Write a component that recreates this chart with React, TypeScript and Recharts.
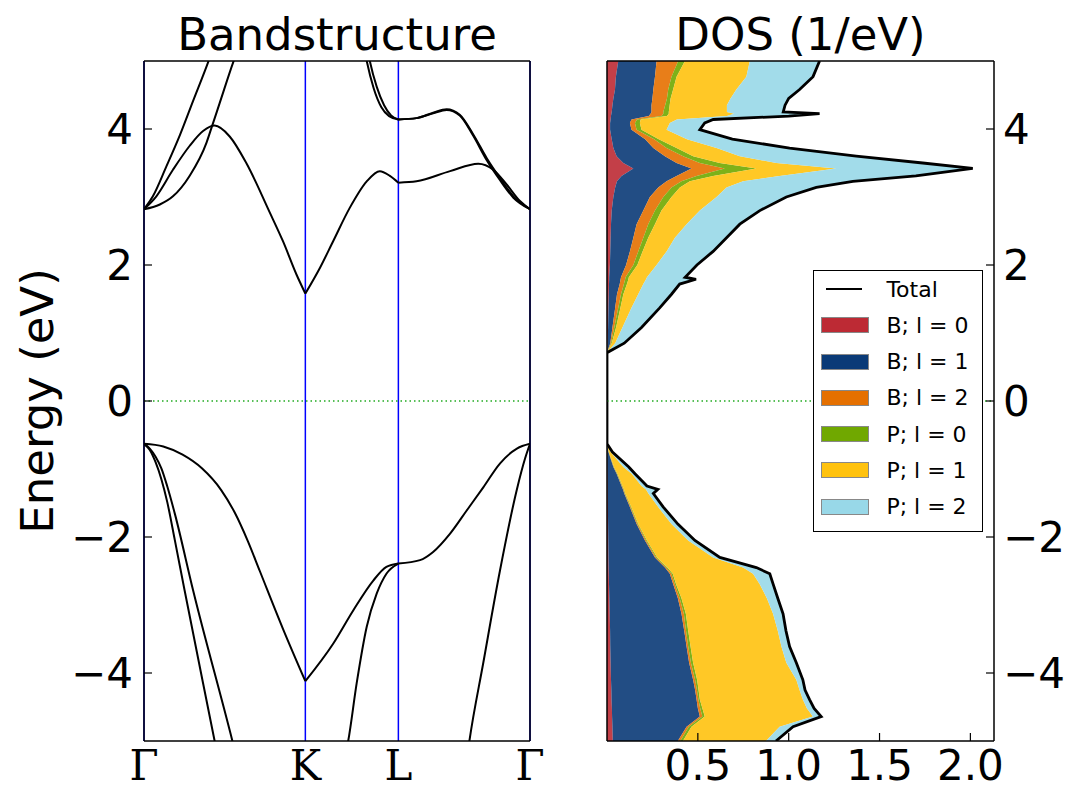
import React from "react";
import {
  ComposedChart, Line, Area, XAxis, YAxis, ReferenceLine, Legend, Label,
} from "recharts";

// k-path: fractional distance along Γ-K-L-Γ
const kTicks = [0, 0.418, 0.659, 1];
const kLabels = ["Γ", "K", "L", "Γ"];
const eTicks = [-4, -2, 0, 2, 4];
const dosTicks = [0.5, 1, 1.5, 2];

// band segments, [k, E(eV)]
const condGK_A = [[0, 2.82], [0.023, 3.01], [0.058, 3.45], [0.093, 3.91], [0.127, 4.41], [0.166, 4.98], [0.18, 5.2]];
const condGK_B = [[0, 2.82], [0.041, 2.89], [0.075, 3.01], [0.118, 3.31], [0.162, 3.8], [0.175, 4.02], [0.196, 4.38], [0.231, 4.98], [0.245, 5.2]];
const condGK_C = [[0, 2.82], [0.032, 3.01], [0.075, 3.4], [0.118, 3.75], [0.153, 3.97], [0.183, 4.05], [0.222, 3.89], [0.265, 3.5], [0.326, 2.77], [0.36, 2.35], [0.395, 1.86], [0.418, 1.58]];
const valGK_1 = [[0, -0.63], [0.05, -0.67], [0.1, -0.79], [0.15, -0.99], [0.2, -1.31], [0.235, -1.64], [0.269, -2.06], [0.3, -2.5], [0.36, -3.35], [0.418, -4.12]];
const valGK_2 = [[0, -0.63], [0.015, -0.72], [0.03, -0.9], [0.045, -1.15], [0.06, -1.48], [0.08, -2.05], [0.105, -2.78], [0.183, -5.0], [0.19, -5.2]];
const valGK_3 = [[0, -0.63], [0.015, -0.7], [0.03, -0.82], [0.045, -0.99], [0.06, -1.25], [0.08, -1.66], [0.127, -2.78], [0.229, -5.0], [0.24, -5.25]];

const condKL_C = [[0.418, 1.58], [0.456, 1.96], [0.49, 2.35], [0.533, 2.84], [0.577, 3.23], [0.611, 3.38], [0.637, 3.31], [0.659, 3.21]];
const condKL_U1 = [[0.57, 5.2], [0.577, 5.0], [0.595, 4.6], [0.615, 4.32], [0.635, 4.19], [0.659, 4.14]];
const condKL_U2 = [[0.578, 5.2], [0.585, 5.0], [0.603, 4.62], [0.622, 4.35], [0.64, 4.2], [0.659, 4.14]];
const valKL_1 = [[0.418, -4.12], [0.49, -3.57], [0.542, -3.08], [0.594, -2.64], [0.628, -2.44], [0.659, -2.39]];
const valKL_2 = [[0.522, -5.2], [0.529, -5.0], [0.551, -4.15], [0.577, -3.32], [0.603, -2.83], [0.628, -2.54], [0.659, -2.39]];

const condLG_C = [[0.659, 3.21], [0.706, 3.23], [0.793, 3.38], [0.866, 3.49], [0.905, 3.4], [0.94, 3.18], [0.974, 2.94], [1, 2.82]];
const condLG_U1 = [[0.659, 4.14], [0.706, 4.16], [0.749, 4.24], [0.784, 4.29], [0.818, 4.21], [0.853, 3.92], [0.888, 3.57], [0.922, 3.28], [0.957, 3.01], [1, 2.82]];
const condLG_U2 = [[0.659, 4.14], [0.706, 4.16], [0.749, 4.23], [0.784, 4.28], [0.818, 4.2], [0.853, 3.9], [0.888, 3.54], [0.922, 3.25], [0.957, 2.99], [1, 2.82]];
const valLG_1 = [[0.659, -2.39], [0.715, -2.34], [0.749, -2.22], [0.793, -1.95], [0.836, -1.61], [0.879, -1.27], [0.922, -0.92], [0.966, -0.7], [1, -0.63]];
const valLG_2 = [[0.838, -5.2], [0.843, -5.0], [0.879, -3.85], [0.922, -2.5], [0.966, -1.3], [0.987, -0.85], [1, -0.63]];

const bandSegments = [
  condGK_A, condGK_B, condGK_C, valGK_1, valGK_2, valGK_3,
  condKL_C, condKL_U1, condKL_U2, valKL_1, valKL_2,
  condLG_C, condLG_U1, condLG_U2, valLG_1, valLG_2,
].map(seg => seg.map(([k, e]) => ({ k, e })));

// projected DOS (1/eV) per energy
const dosE = [-5.0, -4.79, -4.64, -4.52, -4.39, -4.25, -4.1, -3.85, -3.61, -3.38, -3.13, -2.9, -2.69, -2.54, -2.45, -2.3, -2.05, -1.81, -1.56, -1.36, -1.3, -1.25, -1.07, -0.97, -0.75, -0.63,
  0.71, 0.85, 1.08, 1.37, 1.57, 1.72, 1.79, 1.82, 2.0, 2.2, 2.4, 2.6, 2.8, 3.0, 3.14, 3.23, 3.31, 3.42, 3.5, 3.6, 3.72, 3.85, 3.99, 4.09, 4.14, 4.19, 4.225, 4.25, 4.35, 4.45, 4.58, 4.77, 5.0];
const bS = [0.032, 0.03, 0.028, 0.027, 0.025, 0.024, 0.022, 0.02, 0.018, 0.017, 0.015, 0.013, 0.011, 0.01, 0.009, 0.008, 0.007, 0.006, 0.005, 0.004, 0.004, 0.004, 0.003, 0.002, 0.001, 0,
  0, 0.003, 0.006, 0.008, 0.01, 0.011, 0.012, 0.012, 0.016, 0.018, 0.02, 0.022, 0.026, 0.035, 0.045, 0.055, 0.08, 0.145, 0.09, 0.053, 0.035, 0.026, 0.017, 0.017, 0.02, 0.022, 0.024, 0.026, 0.03, 0.035, 0.044, 0.049, 0.062];
const bP = [0.358, 0.408, 0.483, 0.473, 0.468, 0.461, 0.452, 0.432, 0.42, 0.408, 0.395, 0.377, 0.353, 0.336, 0.31, 0.256, 0.202, 0.157, 0.121, 0.091, 0.084, 0.076, 0.05, 0.033, 0.007, 0,
  0, 0.015, 0.024, 0.037, 0.045, 0.059, 0.063, 0.065, 0.089, 0.108, 0.125, 0.141, 0.174, 0.201, 0.237, 0.273, 0.303, 0.32, 0.293, 0.266, 0.22, 0.184, 0.118, 0.109, 0.115, 0.208, 0.216, 0.219, 0.215, 0.215, 0.211, 0.215, 0.211];
const bD = [0.013, 0.012, 0.014, 0.013, 0.01, 0.01, 0.011, 0.01, 0.009, 0.01, 0.013, 0.01, 0.009, 0.009, 0.007, 0.006, 0.006, 0.005, 0.004, 0.003, 0.003, 0.003, 0.002, 0.002, 0.001, 0,
  0, 0.004, 0.01, 0.017, 0.022, 0.023, 0.025, 0.025, 0.04, 0.046, 0.055, 0.064, 0.064, 0.074, 0.073, 0.082, 0.11, 0.183, 0.128, 0.1, 0.073, 0.05, 0.028, 0.028, 0.03, 0.07, 0.07, 0.065, 0.075, 0.08, 0.082, 0.091, 0.119];
const pS = [0.015, 0.015, 0.013, 0.012, 0.008, 0.009, 0.011, 0.012, 0.013, 0.012, 0.011, 0.01, 0.007, 0.007, 0.007, 0.006, 0.005, 0.004, 0.004, 0.003, 0.003, 0.003, 0.003, 0.002, 0.001, 0,
  0, 0.004, 0.01, 0.012, 0.013, 0.017, 0.018, 0.018, 0.022, 0.024, 0.027, 0.037, 0.036, 0.045, 0.046, 0.046, 0.091, 0.174, 0.109, 0.055, 0.055, 0.025, 0.027, 0.027, 0.02, 0.03, 0.03, 0.03, 0.025, 0.02, 0.027, 0.028, 0.037];
const pP = [0.457, 0.485, 0.595, 0.575, 0.567, 0.556, 0.546, 0.513, 0.5, 0.493, 0.48, 0.47, 0.46, 0.442, 0.416, 0.308, 0.227, 0.183, 0.148, 0.127, 0.121, 0.104, 0.078, 0.051, 0.01, 0,
  0, 0.019, 0.035, 0.061, 0.082, 0.09, 0.097, 0.1, 0.106, 0.132, 0.147, 0.174, 0.211, 0.248, 0.257, 0.293, 0.366, 0.44, 0.312, 0.257, 0.22, 0.155, 0.138, 0.165, 0.2, 0.33, 0.36, 0.32, 0.315, 0.33, 0.348, 0.384, 0.357];
const pD = [0.055, 0.074, 0.046, 0.04, 0.037, 0.03, 0.036, 0.055, 0.045, 0.045, 0.055, 0.06, 0.074, 0.092, 0.073, 0.037, 0.037, 0.035, 0.028, 0.027, 0.065, 0.03, 0.018, 0.03, 0.01, 0,
  0, 0.05, 0.105, 0.155, 0.183, 0.2, 0.275, 0.21, 0.222, 0.256, 0.284, 0.293, 0.33, 0.384, 0.494, 0.604, 0.75, 0.751, 0.806, 0.641, 0.402, 0.25, 0.183, 0.192, 0.2, 0.34, 0.47, 0.31, 0.32, 0.32, 0.348, 0.367, 0.384];

const dosRows = dosE.map((e, i) => ({
  e, bS: bS[i], bP: bP[i], bD: bD[i], pS: pS[i], pP: pP[i], pD: pD[i],
  total: bS[i] + bP[i] + bD[i] + pS[i] + pP[i] + pD[i],
}));

const series = [
  { key: "bS", name: "B; l = 0", color: "#bd2a34" },
  { key: "bP", name: "B; l = 1", color: "#0a3a77" },
  { key: "bD", name: "B; l = 2", color: "#e57000" },
  { key: "pS", name: "P; l = 0", color: "#70a800" },
  { key: "pP", name: "P; l = 1", color: "#ffc20e" },
  { key: "pD", name: "P; l = 2", color: "#98d8e8" },
];

const FONT = "DejaVu Sans";
const spine = { stroke: "#000", strokeWidth: 1.5 };
const tickLn = { stroke: "#000", strokeWidth: 1.2 };
const tickTxt = { fontSize: 42, fill: "#000", fontFamily: FONT };
const fmtE = (v: number) => (v < 0 ? `\u2212${-v}` : `${v}`);

function EnergyLabel(props: any) {
  const vb = props.viewBox;
  const cx = vb.x + 53;
  const cy = vb.y + vb.height / 2;
  return (
    <text x={cx} y={cy} transform={`rotate(-90 ${cx} ${cy})`} textAnchor="middle"
      fontSize={45} fontFamily={FONT} fill="#000">Energy (eV)</text>
  );
}

function DosLegend() {
  const rowH = 36.3;
  return (
    <div style={{ width: 170, height: 262, border: "1.3px solid #000", background: "#fff", boxSizing: "border-box",
      position: "relative", fontFamily: FONT, fontSize: 22, color: "#000" }}>
      {[{ name: "Total", color: "" }, ...series].map((s, i) => (
        <div key={s.name} style={{ position: "absolute", left: 0, top: -0.15 + i * rowH, height: rowH, width: "100%",
          display: "flex", alignItems: "center" }}>
          {i === 0
            ? <div style={{ marginLeft: 12.4, width: 36, height: 2.5, background: "#000" }} />
            : <div style={{ marginLeft: 7.4, width: 48, height: 16, background: s.color, border: "1px solid #888", boxSizing: "border-box" }} />}
          <span style={{ position: "absolute", left: 72.4, whiteSpace: "pre" }}>{s.name}</span>
        </div>
      ))}
    </div>
  );
}

function BandPanel() {
  return (
    <ComposedChart width={545} height={791} margin={{ top: 60, right: 14, bottom: 0, left: 0 }}>
      <XAxis xAxisId="b" type="number" dataKey="k" domain={[0, 1]} ticks={kTicks} interval={0} allowDataOverflow
        tickFormatter={(v: number) => kLabels[kTicks.indexOf(v)]} height={50} tickSize={0} tickMargin={9}
        axisLine={spine} tickLine={false} tick={{ ...tickTxt, fontFamily: "DejaVu Serif" }} />
      <XAxis xAxisId="t" orientation="top" type="number" dataKey="k" domain={[0, 1]} ticks={kTicks} height={1}
        axisLine={spine} tickLine={false} tick={false}>
        <Label value="Bandstructure" position="top" offset={10} fontSize={45} fontFamily={FONT} fill="#000" />
      </XAxis>
      <YAxis yAxisId="l" type="number" domain={[-5, 5]} ticks={eTicks} interval={0} allowDataOverflow width={144}
        tickSize={-8} tickMargin={19} axisLine={spine} tickLine={tickLn} tick={tickTxt} tickFormatter={fmtE}>
        <Label content={EnergyLabel} />
      </YAxis>
      <YAxis yAxisId="r" orientation="right" type="number" domain={[-5, 5]} ticks={eTicks} interval={0} width={1}
        tickSize={-8} axisLine={spine} tickLine={tickLn} tick={false} />
      {kTicks.map(k => (
        <ReferenceLine key={k} xAxisId="b" yAxisId="l" x={k} stroke="#0000ff" strokeWidth={1.5} />
      ))}
      <ReferenceLine xAxisId="b" yAxisId="l" y={0} stroke="#22aa22" strokeWidth={1.5} strokeDasharray="1.5 3" />
      {bandSegments.map((seg, i) => (
        <Line key={i} xAxisId="b" yAxisId="l" data={seg} dataKey="e" type="monotone" stroke="#000" strokeWidth={2}
          dot={false} activeDot={false} isAnimationActive={false} />
      ))}
    </ComposedChart>
  );
}

function DosPanel() {
  return (
    <ComposedChart layout="vertical" width={511} height={791} data={dosRows} margin={{ top: 60, right: 7, bottom: 0, left: 46 }}>
      <XAxis xAxisId="b" type="number" domain={[0, 2.13]} ticks={dosTicks} interval={0} allowDataOverflow height={50}
        tickSize={-8} tickMargin={17} axisLine={spine} tickLine={tickLn} tick={tickTxt}
        tickFormatter={(v: number) => v.toFixed(1)} />
      <XAxis xAxisId="t" orientation="top" type="number" domain={[0, 2.13]} ticks={dosTicks} interval={0} height={1}
        tickSize={-8} axisLine={spine} tickLine={tickLn} tick={false}>
        <Label value="DOS (1/eV)" position="top" offset={10} fontSize={45} fontFamily={FONT} fill="#000" />
      </XAxis>
      <YAxis yAxisId="l" type="number" dataKey="e" domain={[-5, 5]} reversed ticks={eTicks} interval={0} allowDataOverflow
        width={1} tickSize={-8} axisLine={spine} tickLine={tickLn} tick={false} />
      <YAxis yAxisId="r" orientation="right" type="number" dataKey="e" domain={[-5, 5]} reversed ticks={eTicks} interval={0}
        width={70} tickSize={-8} tickMargin={17} axisLine={spine} tickLine={tickLn} tick={{ ...tickTxt, textAnchor: "start" }}
        tickFormatter={fmtE} />
      {series.map(s => (
        <Area key={s.key} xAxisId="b" yAxisId="l" dataKey={s.key} name={s.name} stackId="dos" type="linear"
          fill={s.color} fillOpacity={0.9} stroke="none" dot={false} activeDot={false} isAnimationActive={false} />
      ))}
      <Line xAxisId="b" yAxisId="l" dataKey="total" name="Total" type="linear" stroke="#000" strokeWidth={2.8}
        dot={false} activeDot={false} isAnimationActive={false} />
      <ReferenceLine xAxisId="b" yAxisId="l" y={0} stroke="#22aa22" strokeWidth={1.5} strokeDasharray="1.5 3" />
      <Legend layout="vertical" align="center" verticalAlign="middle" content={() => <DosLegend />}
        wrapperStyle={{ left: 253, top: 270, width: 170, height: 262 }} />
    </ComposedChart>
  );
}

export default function App() {
  return (
    <div style={{ position: "absolute", left: 0, top: 0, width: 1071, height: 791, background: "#fff" }}>
      <div style={{ position: "absolute", left: 0, top: 0 }}><BandPanel /></div>
      <div style={{ position: "absolute", left: 560, top: 0 }}><DosPanel /></div>
    </div>
  );
}
